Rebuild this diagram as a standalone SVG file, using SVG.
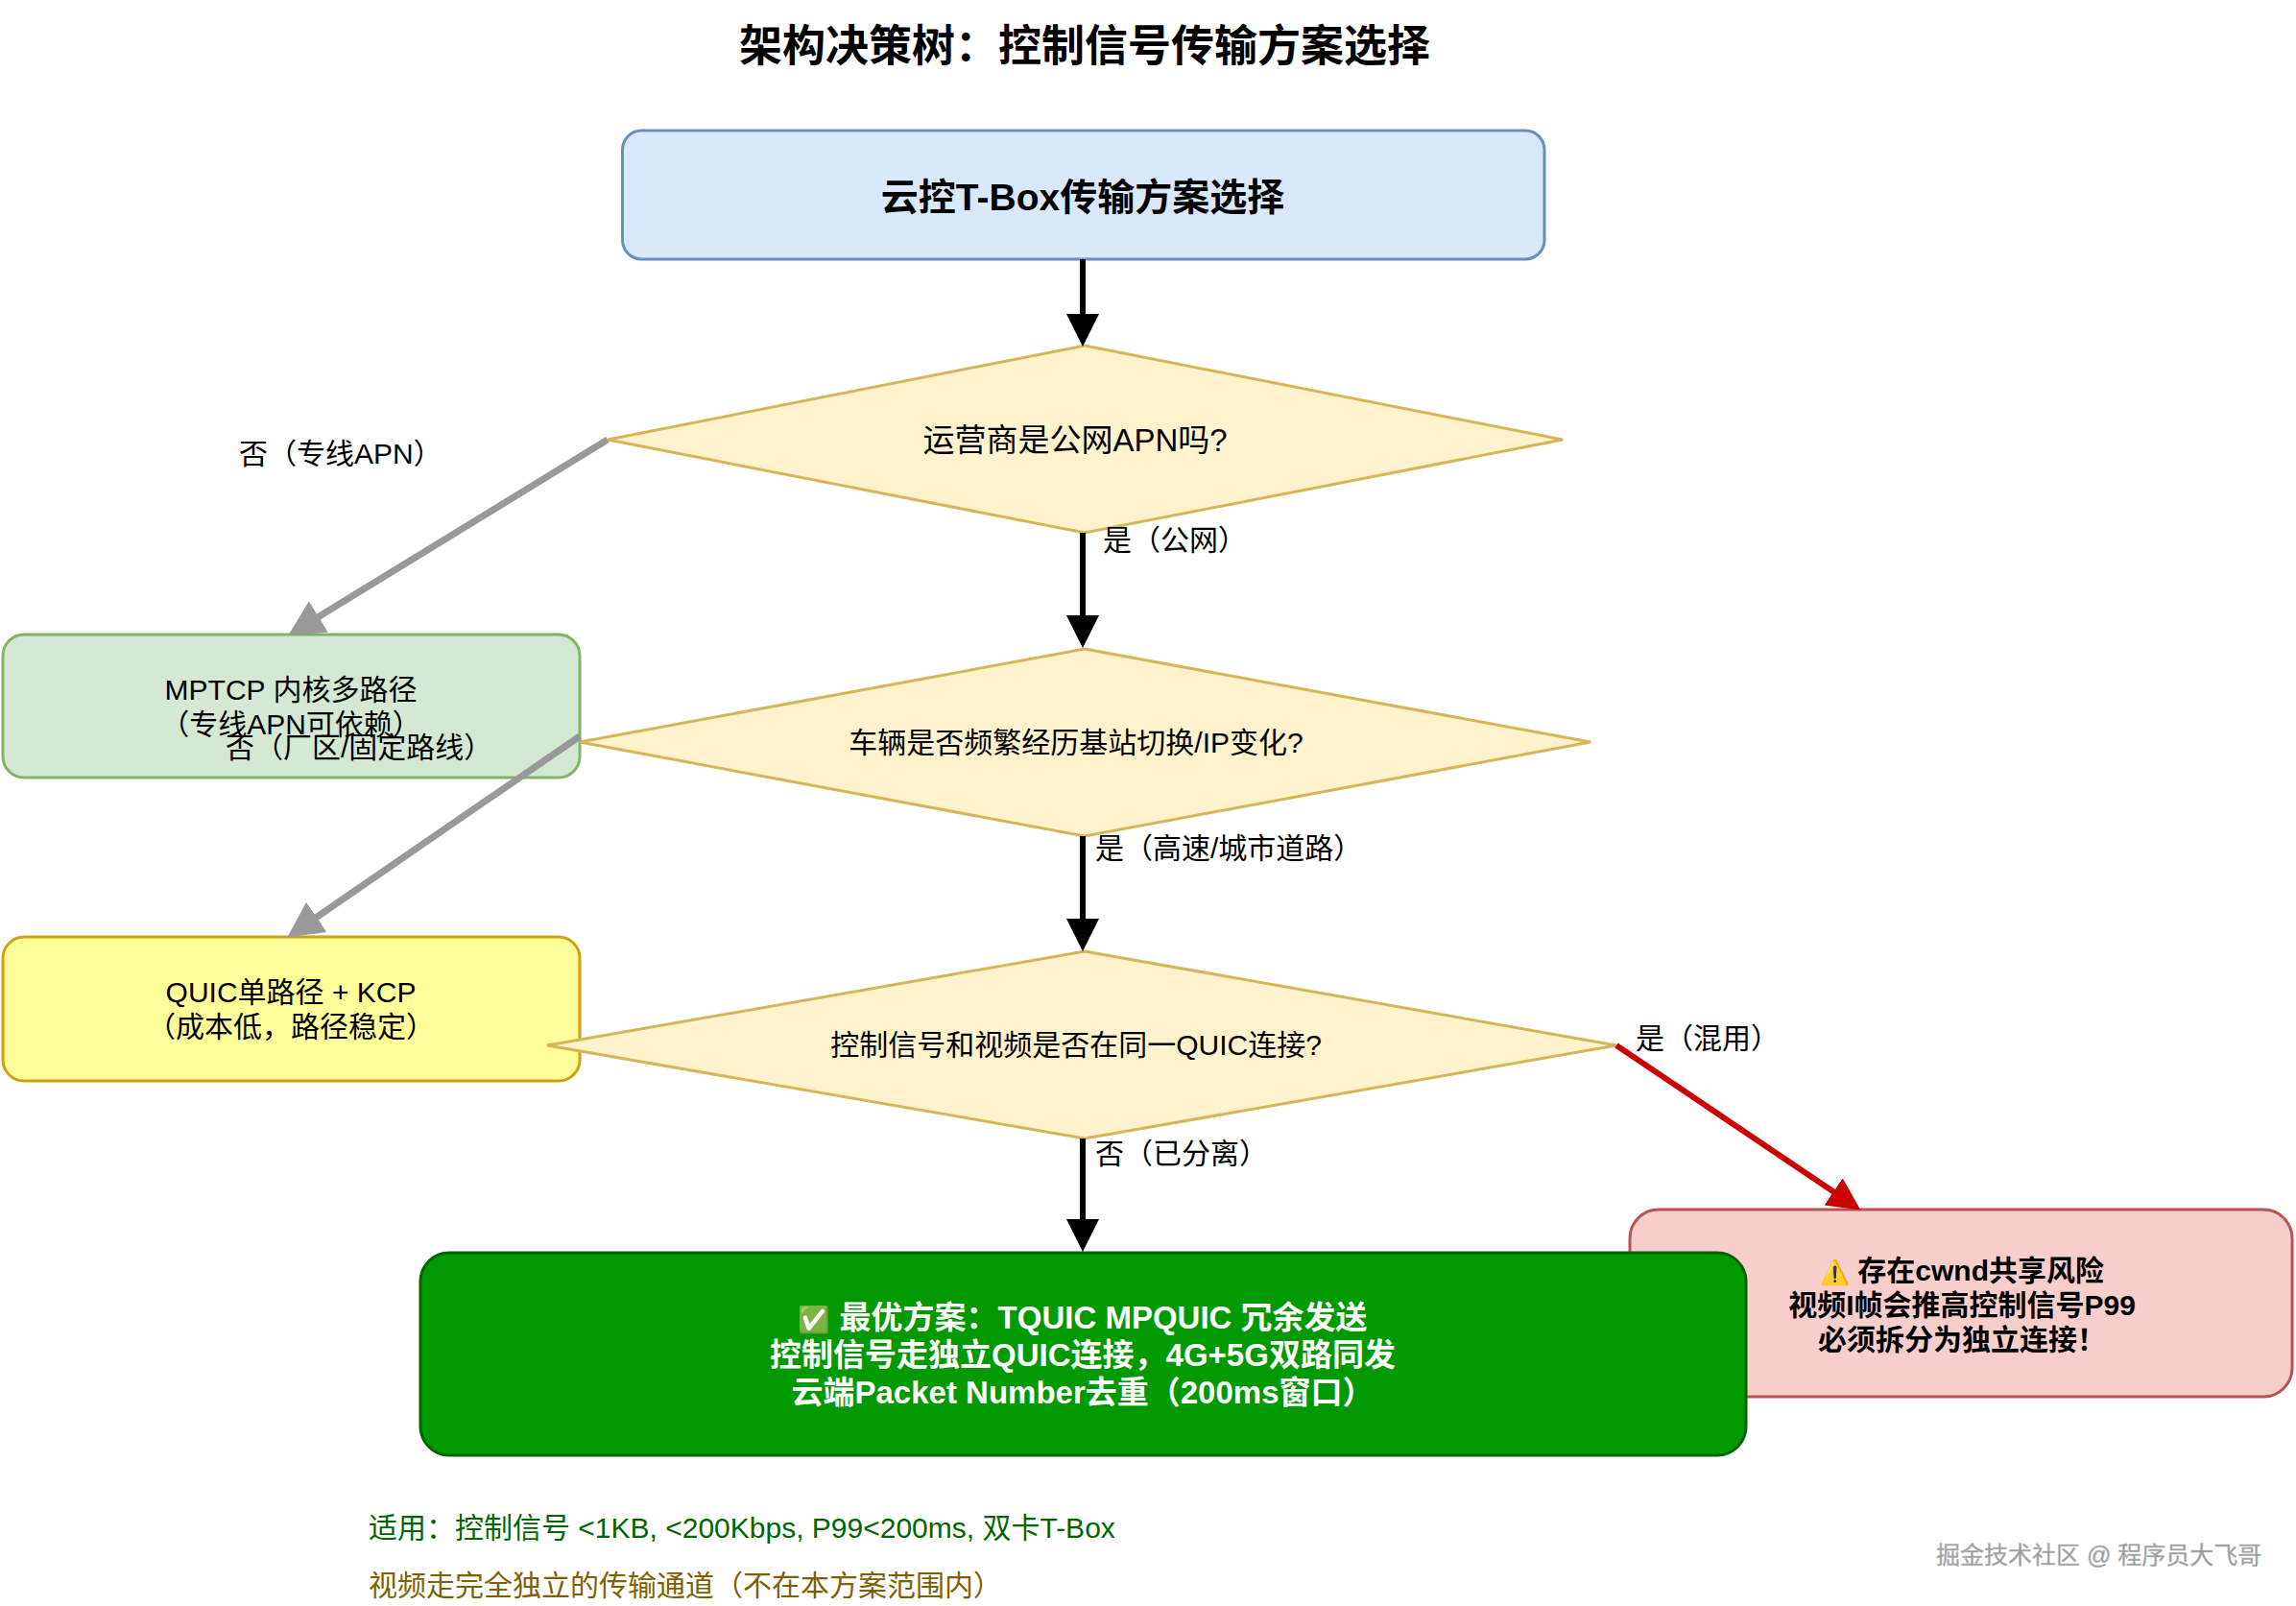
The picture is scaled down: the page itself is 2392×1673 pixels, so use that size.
<svg xmlns="http://www.w3.org/2000/svg" width="2392" height="1673" viewBox="0 0 2392 1673">
<style>
text{font-family:"Liberation Sans","Noto Sans CJK SC",sans-serif;font-size:30px;fill:#000}
.c{text-anchor:middle}
.b{font-weight:700}
.box{stroke-width:3}
.dia{fill:#fff2cc;stroke:#d6b656;stroke-width:3}
.k{stroke:#000;stroke-width:6;fill:none;marker-end:url(#mk)}
.g{stroke:#999;stroke-width:7;fill:none;marker-end:url(#mg)}
.r{stroke:#c00;stroke-width:6;fill:none;marker-end:url(#mr)}
</style>
<defs>
<marker id="mk" markerUnits="userSpaceOnUse" markerWidth="36" markerHeight="36" refX="1" refY="18" orient="auto"><path d="M0 1L34 18L0 35Z" fill="#000"/></marker>
<marker id="mg" markerUnits="userSpaceOnUse" markerWidth="38" markerHeight="40" refX="1" refY="20" orient="auto"><path d="M0 1L37 20L0 39Z" fill="#999"/></marker>
<marker id="mr" markerUnits="userSpaceOnUse" markerWidth="36" markerHeight="36" refX="1" refY="18" orient="auto"><path d="M0 1L34 18L0 35Z" fill="#c00"/></marker>
</defs>
<rect width="2392" height="1673" fill="#fff"/>
<text id="title" class="c b" x="1130" y="64" style="font-size:45px">架构决策树：控制信号传输方案选择</text>
<g id="n-start"><rect class="box" x="648.5" y="136" width="960.5" height="134" rx="20" fill="#dae8fc" stroke="#6c8ebf"/><text class="c b" x="1128" y="219" style="font-size:39px">云控T-Box传输方案选择</text></g>
<g id="n-mptcp"><rect class="box" x="3" y="661" width="601" height="149" rx="22" fill="#d5e8d4" stroke="#82b366"/><text class="c" x="303" y="729">MPTCP 内核多路径</text><text class="c" x="303" y="765">（专线APN可依赖）</text></g>
<g id="n-quic"><rect class="box" x="3" y="976" width="601" height="150" rx="22" fill="#ffff99" stroke="#d0a010"/><text class="c" x="303" y="1044">QUIC单路径 + KCP</text><text class="c" x="303" y="1080">（成本低，路径稳定）</text></g>
<g id="n-d1"><polygon class="dia" points="1130,360 1628,458 1130,555 633,458"/><text class="c" x="1120" y="470" style="font-size:33px">运营商是公网APN吗?</text></g>
<g id="n-d2"><polygon class="dia" points="1130,676 1657,773 1130,871 604,773"/><text class="c" x="1121" y="784">车辆是否频繁经历基站切换/IP变化?</text></g>
<g id="n-d3"><polygon class="dia" points="1130,991 1684,1089 1130,1186 570,1089"/><text class="c" x="1121" y="1099">控制信号和视频是否在同一QUIC连接?</text></g>
<g id="n-risk"><rect class="box" x="1698" y="1260" width="690" height="195" rx="30" fill="#f8cecc" stroke="#b85450"/><text class="c b" x="2044" y="1334"><tspan fill="#e6a800" style="font-size:25px">⚠️</tspan> 存在cwnd共享风险</text><text class="c b" x="2044" y="1370">视频I帧会推高控制信号P99</text><text class="c b" x="2044" y="1406">必须拆分为独立连接！</text></g>
<g id="n-best"><rect class="box" x="438" y="1305" width="1381" height="211" rx="30" fill="#009900" stroke="#006600"/><text class="c b" x="1128" y="1384" style="font-size:33px;fill:#fff"><tspan fill="#3fc33f" style="font-size:27px">✅</tspan> 最优方案：TQUIC MPQUIC 冗余发送</text><text class="c b" x="1128" y="1423" style="font-size:33px;fill:#fff">控制信号走独立QUIC连接，4G+5G双路同发</text><text class="c b" x="1128" y="1462" style="font-size:33px;fill:#fff">云端Packet Number去重（200ms窗口）</text></g>
<g id="connectors">
<path class="k" d="M1128 270V328"/><path class="k" d="M1128 555V642"/><path class="k" d="M1128 871V958"/><path class="k" d="M1128 1186V1271"/>
<path class="g" d="M633 458L331 643"/><path class="g" d="M604 767L329 956"/><path class="r" d="M1684 1089L1911 1242"/>
</g>
<g id="labels">
<text x="249" y="483">否（专线APN）</text>
<text x="1149" y="573">是（公网）</text>
<text x="235" y="789">否（厂区/固定路线）</text>
<text x="1141" y="894">是（高速/城市道路）</text>
<text x="1704" y="1092">是（混用）</text>
<text x="1141" y="1212">否（已分离）</text>
</g>
<text id="note1" x="384" y="1602" style="fill:#006600">适用：控制信号 &lt;1KB, &lt;200Kbps, P99&lt;200ms, 双卡T-Box</text>
<text id="note2" x="384" y="1662" style="fill:#7f6000">视频走完全独立的传输通道（不在本方案范围内）</text>
<text id="watermark" x="2017" y="1629" style="font-size:25px;fill:#999;stroke:#bbb;stroke-width:.5">掘金技术社区 @ 程序员大飞哥</text>
</svg>
